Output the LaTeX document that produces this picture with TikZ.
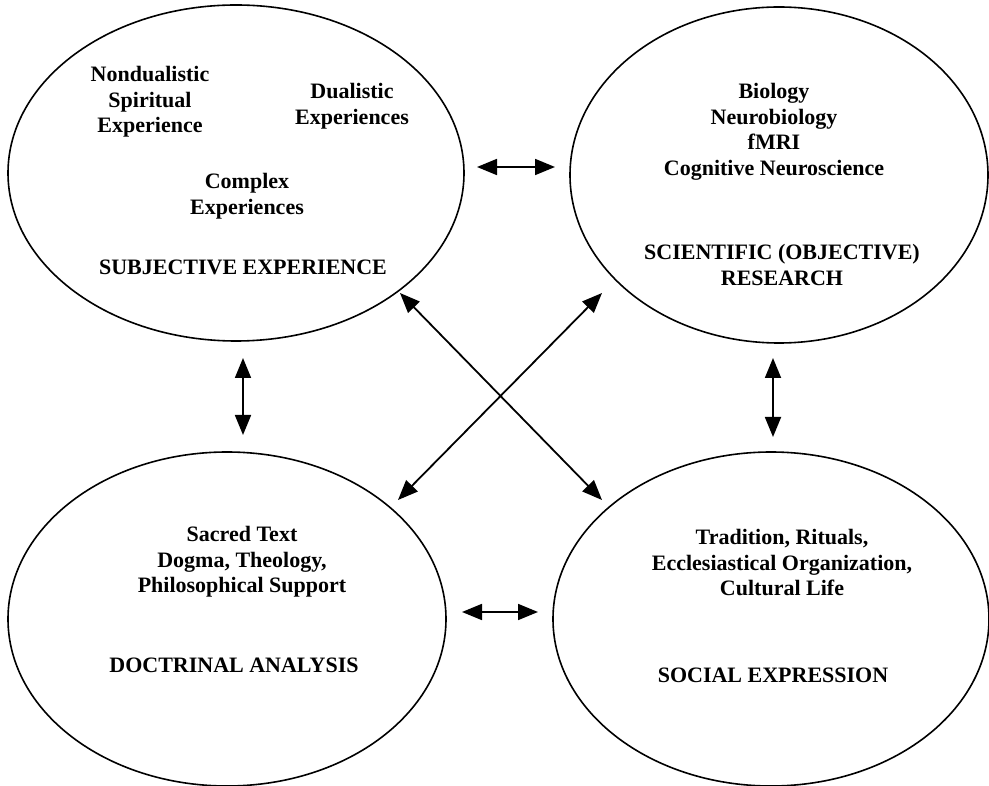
\documentclass[tikz,border=0pt]{standalone}
\usepackage{fontspec}
\setmainfont{Liberation Serif}
\usepackage{tikz}
\usetikzlibrary{arrows.meta, shapes.geometric, positioning}
\tikzstyle{realm}=[ellipse, draw, line width=1.6pt, inner sep=0pt]
\tikzstyle{label}=[align=center, font=\bfseries\fontsize{22}{25.5}\selectfont]

\begin{document}
\begin{tikzpicture}[x=1pt, y=-1pt, >={Triangle[length=20pt, width=16pt]}, line width=1.8pt]
    \useasboundingbox (0,0) rectangle (989,786);

    \node[realm, minimum width=456pt, minimum height=336pt] (subj) at (236,173) {};
    \node[realm, minimum width=418pt, minimum height=336pt] (sci)  at (779,175) {};
    \node[realm, minimum width=438pt, minimum height=334pt] (doct) at (227,619) {};
    \node[realm, minimum width=436pt, minimum height=334pt] (soc)  at (771,619) {};

    \node[label] (nondual) at (150,102) {Nondualistic\\Spiritual\\Experience};
    \node[label] (dual)    at (352,106) {Dualistic\\Experiences};
    \node[label] (complex) at (247,196) {Complex\\Experiences};
    \node[label] (subjt)   at (243,267) {SUBJECTIVE EXPERIENCE};

    \node[label] (fields)  at (774,132) {Biology\\Neurobiology\\fMRI\\Cognitive Neuroscience};
    \node[label] (scit)    at (782,265) {SCIENTIFIC (OBJECTIVE)\\RESEARCH};

    \node[label] (texts)   at (242,562) {Sacred Text\\Dogma, Theology,\\Philosophical Support};
    \node[label] (doctt)   at (234,665) {DOCTRINAL ANALYSIS};

    \node[label] (rituals) at (782,563) {Tradition, Rituals,\\Ecclesiastical Organization,\\Cultural Life};
    \node[label] (soct)    at (773,675) {SOCIAL EXPRESSION};

    \coordinate (subj-e) at (477,167);
    \coordinate (sci-w)  at (555,167);
    \coordinate (doct-e) at (462,612);
    \coordinate (soc-w)  at (538,612);
    \coordinate (subj-s) at (243,358);
    \coordinate (doct-n) at (243,435);
    \coordinate (sci-s)  at (773,358);
    \coordinate (soc-n)  at (773,437);
    \coordinate (subj-se) at (400,293);
    \coordinate (soc-nw)  at (602,500);
    \coordinate (doct-ne) at (398,500);
    \coordinate (sci-sw)  at (602,293);

    \path[<->]
      (subj-e)  edge (sci-w)
      (doct-e)  edge (soc-w)
      (subj-s)  edge (doct-n)
      (sci-s)   edge (soc-n)
      (subj-se) edge (soc-nw)
      (doct-ne) edge (sci-sw);
\end{tikzpicture}
\end{document}
